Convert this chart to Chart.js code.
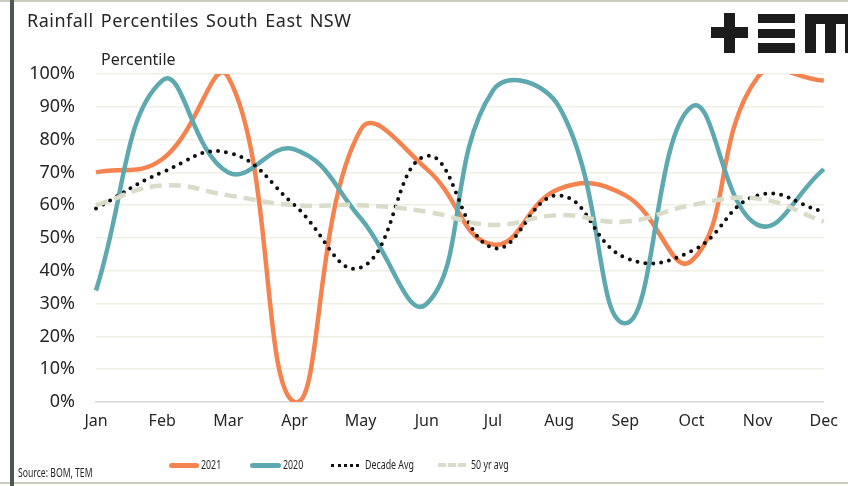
<!DOCTYPE html>
<html>
<head>
<meta charset="utf-8">
<script src="https://cdn.jsdelivr.net/npm/chart.js@4/dist/chart.umd.min.js"></script>
<style>
  html, body { margin: 0; padding: 0; background: #fff; }
  #wrap { position: relative; width: 848px; height: 486px; overflow: hidden; font-family: "Noto Sans", sans-serif; color: #262626; }
  #wrap canvas { position: absolute; left: 0; top: 0; }
  .frameLeft { position: absolute; left: 10px; top: 0; width: 4px; height: 486px; background: #4f5752; }
  .frameTop { position: absolute; left: 0; top: 0; width: 848px; height: 2px; background: #c9ccbd; }
  .frameBottom { position: absolute; left: 0; top: 482px; width: 848px; height: 2px; background: #c9ccbd; }
  .title { position: absolute; left: 27px; top: 8px; font-size: 18px; letter-spacing: 0.5px; word-spacing: 2px; white-space: nowrap; }
  .axisTitle { position: absolute; left: 101px; top: 48px; font-size: 16px; }
  .source { position: absolute; left: 18px; top: 464px; font-size: 12px; white-space: nowrap; transform-origin: left top; transform: scaleX(0.72); }
  .legend { position: absolute; top: 455px; font-size: 13px; white-space: nowrap; transform-origin: left top; transform: scaleX(0.68); }
  .sample { position: absolute; top: 463px; height: 0; }
  .logo div { position: absolute; background: #1c1c1c; }
</style>
</head>
<body>
<div id="wrap">
  <canvas id="chart" width="848" height="486"></canvas>
  <div class="frameTop"></div>
  <div class="frameBottom"></div>
  <div class="frameLeft"></div>
  <div class="title">Rainfall Percentiles South East NSW</div>
  <div class="axisTitle">Percentile</div>
  <div class="source">Source: BOM, TEM</div>

  <div class="sample" style="left:169px;width:30px;border-top:5px solid #f58350;border-radius:3px;"></div>
  <div class="legend" style="left:201px;">2021</div>
  <div class="sample" style="left:250px;width:31px;border-top:5px solid #5ea8af;border-radius:3px;"></div>
  <div class="legend" style="left:283px;">2020</div>
  <div class="sample" style="left:331px;width:28px;border-top:3px dotted #111;top:464px;"></div>
  <div class="legend" style="left:365px;">Decade Avg</div>
  <div class="sample" style="left:438px;width:28px;border-top:4px dashed #d9dcc9;"></div>
  <div class="legend" style="left:471px;">50 yr avg</div>

  <div class="logo">
    <div style="left:711px;top:27px;width:37px;height:11px;"></div>
    <div style="left:724px;top:13px;width:11px;height:40px;"></div>
    <div style="left:758px;top:14px;width:37px;height:9px;"></div>
    <div style="left:758px;top:29px;width:37px;height:9px;"></div>
    <div style="left:758px;top:43px;width:37px;height:10px;"></div>
    <div style="left:805px;top:14px;width:43px;height:10px;"></div>
    <div style="left:805px;top:14px;width:11px;height:39px;"></div>
    <div style="left:825px;top:14px;width:11px;height:39px;"></div>
    <div style="left:845px;top:14px;width:11px;height:39px;"></div>
  </div>
</div>
<script>
const months = ['Jan', 'Feb', 'Mar', 'Apr', 'May', 'Jun', 'Jul', 'Aug', 'Sep', 'Oct', 'Nov', 'Dec'];
const rain2021 = [70, 74, 99, 0, 83, 71, 48, 65, 63, 43, 99, 98];
const rain2020 = [34, 98, 70, 77, 56, 30, 95, 90, 24, 90, 54, 71];
const decadeAvg = [59, 70, 76, 60, 41, 75, 47, 63, 44, 46, 63, 58];
const fiftyYrAvg = [60, 66, 63, 60, 60, 58, 54, 57, 55, 60, 62, 55];
const yTicks = [0, 10, 20, 30, 40, 50, 60, 70, 80, 90, 100];

const ctx = document.getElementById('chart').getContext('2d');

new Chart(ctx, {
  type: 'line',
  data: {
    labels: months,
    datasets: [
      {
        label: '2021',
        data: rain2021,
        borderColor: '#f58350',
        borderWidth: 4.5,
        order: 4
      },
      {
        label: '2020',
        data: rain2020,
        borderColor: '#5ea8af',
        borderWidth: 4.5,
        order: 3
      },
      {
        label: 'Decade Avg',
        data: decadeAvg,
        borderColor: '#111111',
        borderWidth: 4,
        borderDash: [0, 8],
        borderCapStyle: 'round',
        order: 2
      },
      {
        label: '50 yr avg',
        data: fiftyYrAvg,
        borderColor: '#d9dcc9',
        borderWidth: 4.5,
        borderDash: [12, 7],
        order: 1
      }
    ]
  },
  options: {
    responsive: false,
    animation: false,
    layout: { padding: { left: 0, right: 17, top: 74, bottom: 0 } },
    elements: {
      point: { radius: 0 },
      line: { tension: 0.45, fill: false, capBezierPoints: false }
    },
    plugins: {
      legend: { display: false },
      tooltip: { enabled: false }
    },
    scales: {
      x: {
        offset: false,
        grid: { display: false, drawTicks: false },
        border: { color: '#d9d9d9', width: 1.5 },
        ticks: { color: '#262626', font: { family: 'Noto Sans', size: 16 }, padding: 10, maxRotation: 0 },
        afterFit: (scale) => { scale.height = 84; }
      },
      y: {
        min: 0,
        max: 100,
        afterBuildTicks: (scale) => { scale.ticks = yTicks.map(v => ({ value: v })); },
        grid: { color: '#efefe4', lineWidth: 1.5, drawTicks: false },
        border: { display: false },
        ticks: {
          color: '#262626',
          font: { family: 'Noto Sans', size: 18 },
          padding: 21,
          callback: (v) => v + '%'
        },
        afterFit: (scale) => { scale.width = 96; }
      }
    }
  }
});
</script>
</body>
</html>
